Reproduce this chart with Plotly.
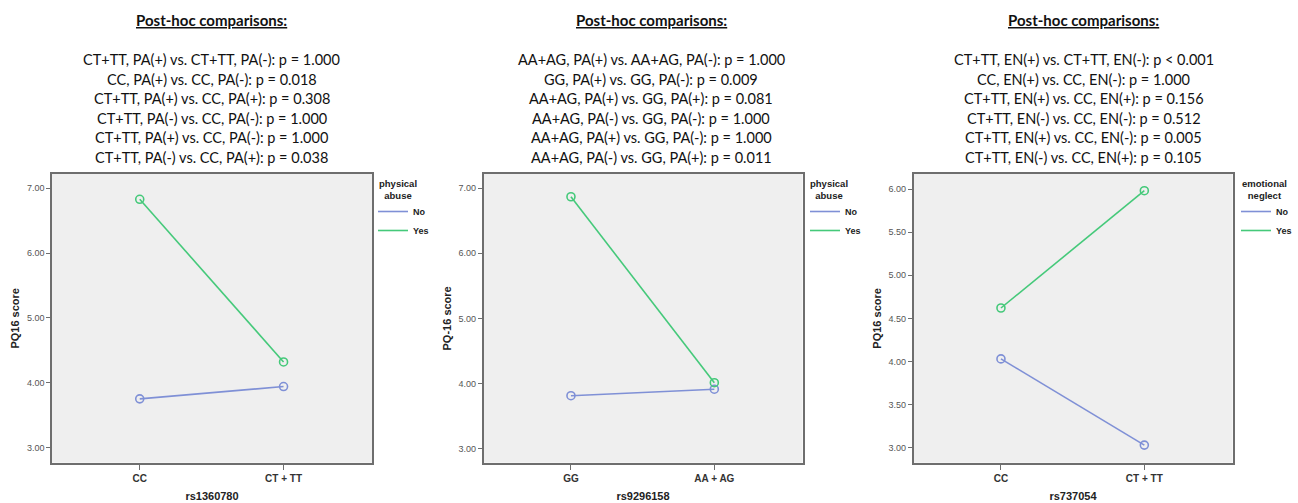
import plotly.graph_objects as go

# ---- data ----
cats1 = ["CC", "CT + TT"]
no1 = [3.75, 3.94]
yes1 = [6.83, 4.32]

cats2 = ["GG", "AA + AG"]
no2 = [3.81, 3.91]
yes2 = [6.87, 4.01]

cats3 = ["CC", "CT + TT"]
no3 = [4.03, 3.03]
yes3 = [4.62, 5.98]

xtitles = ["rs1360780", "rs9296158", "rs737054"]
ytitles = ["PQ16 score", "PQ-16 score", "PQ16 score"]
legend_titles = ["physical<br>abuse", "physical<br>abuse", "emotional<br>neglect"]
series_names = ["No", "Yes"]

ytick_vals = [
    [3.0, 4.0, 5.0, 6.0, 7.0],
    [3.0, 4.0, 5.0, 6.0, 7.0],
    [3.0, 3.5, 4.0, 4.5, 5.0, 5.5, 6.0],
]
yranges = [[2.765, 7.22], [2.78, 7.22], [2.826, 6.174]]

posthoc = [
    ["CT+TT, PA(+) vs. CT+TT, PA(-): p = 1.000",
     "CC, PA(+) vs. CC, PA(-): p = 0.018",
     "CT+TT, PA(+) vs. CC, PA(+): p = 0.308",
     "CT+TT, PA(-) vs. CC, PA(-): p = 1.000",
     "CT+TT, PA(+) vs. CC, PA(-): p = 1.000",
     "CT+TT, PA(-) vs. CC, PA(+): p = 0.038"],
    ["AA+AG, PA(+) vs. AA+AG, PA(-): p = 1.000",
     "GG, PA(+) vs. GG, PA(-): p = 0.009",
     "AA+AG, PA(+) vs. GG, PA(+): p = 0.081",
     "AA+AG, PA(-) vs. GG, PA(-): p = 1.000",
     "AA+AG, PA(+) vs. GG, PA(-): p = 1.000",
     "AA+AG, PA(-) vs. GG, PA(+): p = 0.011"],
    ["CT+TT, EN(+) vs. CT+TT, EN(-): p < 0.001",
     "CC, EN(+) vs. CC, EN(-): p = 1.000",
     "CT+TT, EN(+) vs. CC, EN(+): p = 0.156",
     "CT+TT, EN(-) vs. CC, EN(-): p = 0.512",
     "CT+TT, EN(+) vs. CC, EN(-): p = 0.005",
     "CT+TT, EN(-) vs. CC, EN(+): p = 0.105"],
]

# ---- styling / layout ----
W, H = 1298, 503


def px(x):
    return x / W


def py(y):
    return 1 - y / H


BLUE = "#7f90d6"
GREEN = "#45c97a"
panels = [(cats1, no1, yes1), (cats2, no2, yes2), (cats3, no3, yes3)]
xdomains_px = [(52, 372), (483.5, 802.5), (913.5, 1232.5)]
ydomain = [py(462.7), py(174)]
text_centers_px = [212, 651, 1083.5]
line_y_px = [59.5, 79, 99, 118.5, 138, 157.5]
legend_x_px = [373, 805, 1236]
legend_title_x_px = [398, 829, 1264]
legend_names = ["legend", "legend2", "legend3"]

fig = go.Figure()
layout = dict(
    width=W, height=H,
    margin=dict(l=0, r=0, t=0, b=0),
    paper_bgcolor="white",
    plot_bgcolor="#efefef",
    showlegend=True,
    annotations=[],
)

for i, (cats, no, yes) in enumerate(panels):
    sfx = "" if i == 0 else str(i + 1)
    xa, ya = "x" + sfx, "y" + sfx
    lg = legend_names[i]
    for vals, col, nm in ((no, BLUE, series_names[0]), (yes, GREEN, series_names[1])):
        fig.add_trace(go.Scatter(
            x=cats, y=vals, mode="lines+markers", xaxis=xa, yaxis=ya,
            line=dict(color=col, width=1.6),
            marker=dict(symbol="circle-open", size=8, color=col, line=dict(width=1.6)),
            showlegend=False, hoverinfo="x+y",
        ))
        # legend-only trace (line sample, no marker)
        fig.add_trace(go.Scatter(
            x=[None], y=[None], mode="lines", xaxis=xa, yaxis=ya,
            line=dict(color=col, width=1.6), name="<b>%s</b>" % nm,
            showlegend=True, legend=lg,
        ))
    x0, x1 = xdomains_px[i]
    layout["xaxis" + sfx] = dict(
        domain=[px(x0), px(x1)], anchor=ya, type="category",
        range=[-0.61, 1.615],
        showline=True, mirror=True, linecolor="#6e6e6e", linewidth=1.5,
        ticks="outside", ticklen=6, tickcolor="#6e6e6e", tickwidth=1,
        showgrid=False, zeroline=False,
        tickfont=dict(family="Liberation Sans", size=10, color="#333333"),
        title=dict(text="<b>%s</b>" % xtitles[i], standoff=9,
                   font=dict(family="Liberation Sans", size=11, color="#222222")),
        tickprefix="<b>", ticksuffix="</b>",
    )
    layout["yaxis" + sfx] = dict(
        domain=ydomain, anchor=xa, range=yranges[i],
        tickvals=ytick_vals[i],
        ticktext=["%.2f" % v for v in ytick_vals[i]],
        showline=True, mirror=True, linecolor="#6e6e6e", linewidth=1.5,
        ticks="outside", ticklen=4, tickcolor="#6e6e6e", tickwidth=1,
        showgrid=False, zeroline=False,
        tickfont=dict(family="Liberation Sans", size=9, color="#555555"),
        title=dict(text="<b>%s</b>" % ytitles[i], standoff=5,
                   font=dict(family="Liberation Sans", size=11, color="#222222")),
    )
    layout[lg] = dict(
        x=px(legend_x_px[i]), y=py(197), xanchor="left", yanchor="top",
        bgcolor="rgba(0,0,0,0)",
        font=dict(family="Liberation Sans", size=9, color="#222222"),
        itemwidth=30, tracegroupgap=0,
    )
    # legend heading
    layout["annotations"].append(dict(
        x=px(legend_title_x_px[i]), y=py(190), xref="paper", yref="paper",
        showarrow=False, xanchor="center", yanchor="middle", align="center",
        text="<b>%s</b>" % legend_titles[i],
        font=dict(family="Liberation Sans", size=9.5, color="#222222"),
    ))
    cx = px(text_centers_px[i])
    layout["annotations"].append(dict(
        x=cx, y=py(20), xref="paper", yref="paper", showarrow=False,
        xanchor="center", yanchor="middle",
        text="<b><u>Post-hoc comparisons:</u></b>",
        font=dict(family="Lato", size=15, color="#111111"),
    ))
    for ln, yy in zip(posthoc[i], line_y_px):
        layout["annotations"].append(dict(
            x=cx, y=py(yy), xref="paper", yref="paper", showarrow=False,
            xanchor="center", yanchor="middle",
            text=ln,
            font=dict(family="Lato", size=14.5, color="#111111"),
        ))

fig.update_layout(**layout)
fig.write_html(
    "out.html",
    config={"displayModeBar": False},
    post_script="document.body.style.margin='0';document.body.style.overflow='hidden';",
)
